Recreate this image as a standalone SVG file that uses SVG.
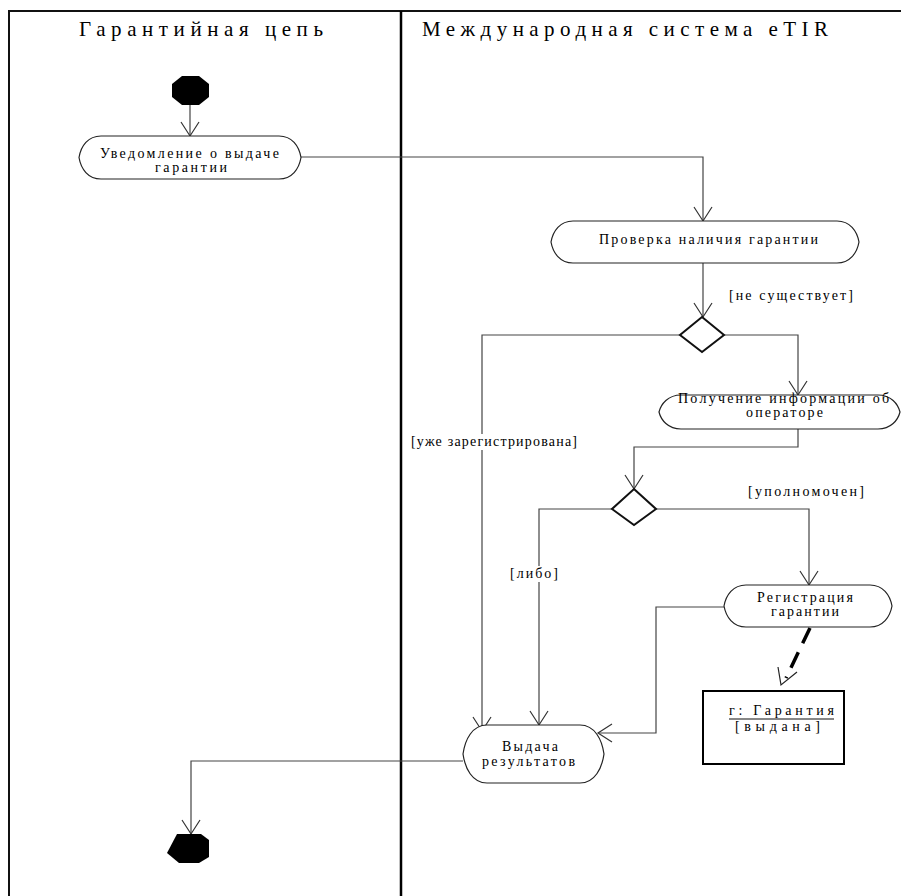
<svg xmlns="http://www.w3.org/2000/svg" width="901" height="896" viewBox="0 0 901 896">
  <style>
    .lane { stroke: #111; stroke-width: 2; fill: none; }
    .title { font-family: "Liberation Serif", "Times New Roman", serif; font-size: 21px; fill: #000; }
    .act { fill: #fff; stroke: #222; stroke-width: 1.2; }
    .lbl { font-family: "Liberation Serif", "Times New Roman", serif; font-size: 14px; fill: #000; }
    .flow { fill: none; stroke: #444; stroke-width: 1.2; }
    .dec { fill: #fff; stroke: #111; stroke-width: 2; }
    .dot { fill: #000; }
  </style>
  <defs>
    <marker id="open" markerUnits="userSpaceOnUse" markerWidth="18" markerHeight="20" viewBox="0 0 18 20" refX="16" refY="10" orient="auto">
      <path d="M2,1 L16,10 L2,19" fill="none" stroke="#333" stroke-width="1.2"/>
    </marker>
  </defs>

  <rect width="901" height="896" fill="#fff"/>

  <!-- swimlanes -->
  <g id="lanes">
    <path class="lane" d="M9,896 V11 H901" stroke="#333"/>
    <line x1="401" y1="11" x2="401" y2="896" stroke="#000" stroke-width="2.5"/>
    <text class="title" x="79" y="36" textLength="244" lengthAdjust="spacing">Гарантийная цепь</text>
    <text class="title" x="422" y="36" textLength="406" lengthAdjust="spacing">Международная система eTIR</text>
  </g>

  <!-- connectors -->
  <g id="connectors">
    <path class="flow" d="M190,105 V136" marker-end="url(#open)"/>
    <path class="flow" d="M301,157 H703 V221" marker-end="url(#open)"/>
    <path class="flow" d="M703,263 V317" marker-end="url(#open)"/>
    <path class="flow" d="M680,335 H482 V731" marker-end="url(#open)"/>
    <path class="flow" d="M724,335 H798 V395" marker-end="url(#open)"/>
    <path class="flow" d="M798,429 V447 H634 V489" marker-end="url(#open)"/>
    <path class="flow" d="M612,509 H539 V725" marker-end="url(#open)"/>
    <path class="flow" d="M656,509 H809 V585" marker-end="url(#open)"/>
    <path class="flow" d="M724,607 H656 V733 H598" marker-end="url(#open)"/>
    <path class="flow" d="M463,761 H191 V834" marker-end="url(#open)"/>
    <!-- object flow to the guarantee object -->
    <path d="M810,628 L786,678" fill="none" stroke="#000" stroke-width="3.5" stroke-dasharray="17,10"/>
    <path d="M778,667 L781,685 L797,672" fill="none" stroke="#222" stroke-width="1.2"/>

    <!-- guard labels -->
    <text class="lbl" x="729" y="300" textLength="124" lengthAdjust="spacing">[не существует]</text>
    <rect x="409" y="434" width="170" height="16" fill="#fff"/>
    <text class="lbl" x="411" y="446" textLength="166" lengthAdjust="spacing">[уже зарегистрирована]</text>
    <text class="lbl" x="748" y="496" textLength="116" lengthAdjust="spacing">[уполномочен]</text>
    <rect x="508" y="566" width="52" height="16" fill="#fff"/>
    <text class="lbl" x="510" y="578" textLength="48" lengthAdjust="spacing">[либо]</text>
  </g>

  <!-- initial node -->
  <g id="start">
    <polygon class="dot" points="182,76 199,76 209,84 209,97 199,105 182,105 172,97 172,84"/>
  </g>

  <!-- guarantee notification -->
  <g id="notify">
    <path class="act" d="M101,136 H279 C292,136 299,146 301,157.5 C299,169 292,179 279,179 H101 C88,179 81,169 79,157.5 C81,146 88,136 101,136 Z"/>
    <text class="lbl" x="100" y="158" textLength="179" lengthAdjust="spacing">Уведомление о выдаче</text>
    <text class="lbl" x="155" y="172" textLength="72" lengthAdjust="spacing">гарантии</text>
  </g>

  <!-- check existence -->
  <g id="check">
    <path class="act" d="M573,221 H837 C850,221 857,231 859,242 C857,253 850,263 837,263 H573 C560,263 553,253 551,242 C553,231 560,221 573,221 Z"/>
    <text class="lbl" x="599" y="244" textLength="219" lengthAdjust="spacing">Проверка наличия гарантии</text>
  </g>

  <!-- decision 1 -->
  <g id="decision1">
    <polygon class="dec" points="702,317 724,335 702,352 680,335"/>
  </g>

  <!-- operator info -->
  <g id="operator">
    <path class="act" d="M681,395 H878 C891,395 898,404 900,412 C898,420 891,429 878,429 H681 C668,429 661,420 659,412 C661,404 668,395 681,395 Z"/>
    <text class="lbl" x="678" y="403" textLength="211" lengthAdjust="spacing">Получение информации об</text>
    <text class="lbl" x="746" y="417" textLength="77" lengthAdjust="spacing">операторе</text>
  </g>

  <!-- decision 2 -->
  <g id="decision2">
    <polygon class="dec" points="634,489 656,509 634,525 612,509"/>
  </g>

  <!-- registration -->
  <g id="register">
    <path class="act" d="M746,585 H870 C883,585 890,595 892,606 C890,617 883,627 870,627 H746 C733,627 726,617 724,606 C726,595 733,585 746,585 Z"/>
    <text class="lbl" x="757" y="602" textLength="96" lengthAdjust="spacing">Регистрация</text>
    <text class="lbl" x="771" y="616" textLength="68" lengthAdjust="spacing">гарантии</text>
  </g>

  <!-- guarantee object -->
  <g id="guarantee">
    <rect x="703" y="691" width="141" height="73" fill="#fff" stroke="#000" stroke-width="2"/>
    <text class="lbl" x="729" y="715" textLength="105" lengthAdjust="spacing">г:  Гарантия</text>
    <line x1="729" y1="719" x2="834" y2="719" stroke="#111" stroke-width="1.2"/>
    <text class="lbl" x="735" y="731" textLength="85" lengthAdjust="spacing">[выдана]</text>
  </g>

  <!-- results -->
  <g id="results">
    <path class="act" d="M487,725 H580 C595,725 602,740 604,754 C602,768 595,783 580,783 H487 C472,783 465,768 463,754 C465,740 472,725 487,725 Z"/>
    <text class="lbl" x="502" y="751" textLength="56" lengthAdjust="spacing">Выдача</text>
    <text class="lbl" x="482" y="766" textLength="93" lengthAdjust="spacing">результатов</text>
  </g>

  <!-- final node -->
  <g id="end">
    <polygon class="dot" points="177,834 201,834 209,840 209,857 199,863 179,863 167,853 177,834"/>
  </g>
</svg>
